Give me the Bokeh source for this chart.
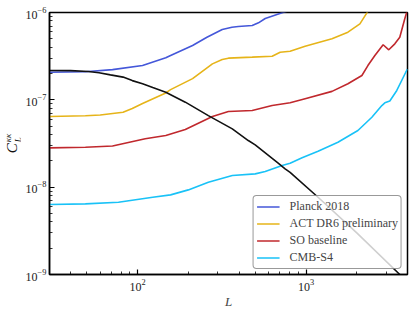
from bokeh.plotting import figure
from bokeh.models import Legend, LegendItem, Div
from bokeh.layouts import row
from bokeh.embed import file_html
from bokeh.resources import INLINE

# Lensing convergence power spectrum C_L^kk (black)
L_signal = [30, 40, 51, 59, 69, 82, 93, 107, 123, 147, 192, 263, 365, 454, 499, 683, 751, 804,
            1178, 2000, 3600, 4000]
C_signal = [2.17e-7, 2.16e-7, 2.11e-7, 2.04e-7, 1.93e-7, 1.82e-7, 1.66e-7, 1.53e-7, 1.38e-7,
            1.22e-7, 9.4e-8, 6.6e-8, 4.65e-8, 3.42e-8, 3.05e-8, 1.88e-8, 1.62e-8, 1.48e-8,
            7.66e-9, 3.0e-9, 1.0e-9, 8.3e-10]

# Planck 2018 noise
L_planck = [30, 49, 71, 107, 147, 157, 212, 258, 318, 363, 396, 479, 522, 572, 721, 800]
N_planck = [2.07e-7, 2.10e-7, 2.22e-7, 2.47e-7, 3.03e-7, 3.22e-7, 4.19e-7, 5.21e-7, 6.39e-7,
            6.79e-7, 6.91e-7, 7.10e-7, 7.62e-7, 8.54e-7, 9.92e-7, 1.06e-6]

# ACT DR6 preliminary noise
L_act = [30, 49, 60, 82, 93, 107, 147, 157, 212, 278, 318, 346, 479, 629, 702, 804, 987, 1425,
         1772, 2087, 2296, 2400]
N_act = [6.44e-8, 6.56e-8, 6.70e-8, 7.21e-8, 7.95e-8, 9.07e-8, 1.20e-7, 1.31e-7, 1.75e-7,
         2.58e-7, 2.90e-7, 3.0e-7, 3.08e-7, 3.16e-7, 3.51e-7, 3.60e-7, 4.11e-7, 5.00e-7,
         5.95e-7, 7.42e-7, 9.92e-7, 1.13e-6]

# SO baseline noise
L_so = [30, 49, 71, 111, 147, 192, 278, 346, 479, 629, 804, 987, 1425, 1772, 2145, 2328, 2561,
        2867, 3098, 3363, 3600, 3854, 3960, 4000]
N_so = [2.82e-8, 2.86e-8, 2.96e-8, 3.58e-8, 3.90e-8, 4.57e-8, 6.44e-8, 7.34e-8, 7.54e-8, 8.60e-8,
        9.24e-8, 1.03e-7, 1.25e-7, 1.53e-7, 1.90e-7, 2.47e-7, 3.22e-7, 4.27e-7, 3.74e-7, 4.38e-7,
        5.21e-7, 8.47e-7, 1.01e-6, 1.1e-6]

# CMB-S4 noise
L_s4 = [30, 49, 77, 123, 157, 200, 263, 365, 499, 572, 721, 804, 947, 1178, 1546, 2031, 2458,
        2817, 2935, 3141, 3456, 3906, 4000]
N_s4 = [6.32e-9, 6.44e-9, 6.71e-9, 7.66e-9, 8.16e-9, 9.31e-9, 1.14e-8, 1.36e-8, 1.42e-8, 1.51e-8,
        1.77e-8, 1.88e-8, 2.17e-8, 2.58e-8, 3.27e-8, 4.45e-8, 6.32e-8, 8.60e-8, 9.24e-8, 9.69e-8,
        1.28e-7, 2.07e-7, 2.25e-7]

labels = ["Planck 2018", "ACT DR6 preliminary", "SO baseline", "CMB-S4"]
colors = ["#4457d9", "#e6b419", "#c0282d", "#19c2f7"]

FONT = "Liberation Serif"
DIV_W = 20

p = figure(x_axis_type="log", y_axis_type="log",
           x_range=(30, 4000), y_range=(1e-9, 1e-6),
           frame_width=358, frame_height=262,
           min_border_left=49 - DIV_W, min_border_right=8, min_border_top=12, min_border_bottom=38,
           output_backend="svg", toolbar_location=None, margin=0)

p.grid.visible = False
p.outline_line_color = "black"
p.outline_line_width = 1.5
p.background_fill_color = "white"
p.border_fill_color = "white"

for ax in (p.xaxis[0], p.yaxis[0]):
    ax.axis_line_color = "black"
    ax.axis_line_width = 1.5
    ax.major_tick_in = 5
    ax.major_tick_out = 0
    ax.minor_tick_in = 3
    ax.minor_tick_out = 0
    ax.major_tick_line_width = 1.2
    ax.minor_tick_line_width = 0.8
    ax.major_label_text_font = FONT
    ax.major_label_text_font_size = "12px"
    ax.major_label_text_color = "#222222"

p.yaxis[0].major_label_standoff = 3
p.yaxis[0].axis_label_standoff = 0
p.xaxis[0].major_label_standoff = 4
p.xaxis[0].axis_label = "L"
p.xaxis[0].axis_label_text_font = FONT
p.xaxis[0].axis_label_text_font_style = "italic"
p.xaxis[0].axis_label_text_font_size = "13px"
p.xaxis[0].axis_label_standoff = 0

series = [(L_planck, N_planck), (L_act, N_act), (L_so, N_so), (L_s4, N_s4)]
renderers = []
for (lx, ly), lab, col in zip(series, labels, colors):
    r = p.line(lx, ly, line_color=col, line_width=1.6)
    renderers.append((lab, r))

p.line(L_signal, C_signal, line_color="#111111", line_width=1.6)

legend = Legend(items=[LegendItem(label=lab, renderers=[r]) for lab, r in renderers],
                location="bottom_right", margin=5, padding=3, spacing=2,
                label_height=13, glyph_height=13, glyph_width=23, label_standoff=10,
                label_text_font=FONT, label_text_font_size="12px",
                border_line_color="#333333", border_line_width=1.2,
                background_fill_alpha=0.8, border_radius=4)
p.add_layout(legend, "center")

# y-axis label C_L^{kk} as rotated HTML text beside the plot
ylabel_html = (
    '<div style="width:%dpx;height:300px;display:flex;align-items:center;justify-content:center;'
    'padding-left:8px;padding-bottom:14px;box-sizing:border-box;">'
    '<div style="transform:rotate(-90deg);white-space:nowrap;font-family:\'Liberation Serif\';'
    'color:#111;line-height:1;">'
    '<i style="font-size:15px;">C</i>'
    '<span style="display:inline-flex;flex-direction:column;vertical-align:middle;'
    'font-size:9px;font-style:italic;line-height:1;margin-left:1px;">'
    '<span>&kappa;&kappa;</span><span style="margin-top:1px;">L</span></span>'
    '</div></div>' % DIV_W
)
ylabel = Div(text=ylabel_html, width=DIV_W, height=300, margin=0)

layout = row(ylabel, p, spacing=0)
open("out.html", "w").write(file_html(layout, INLINE))
